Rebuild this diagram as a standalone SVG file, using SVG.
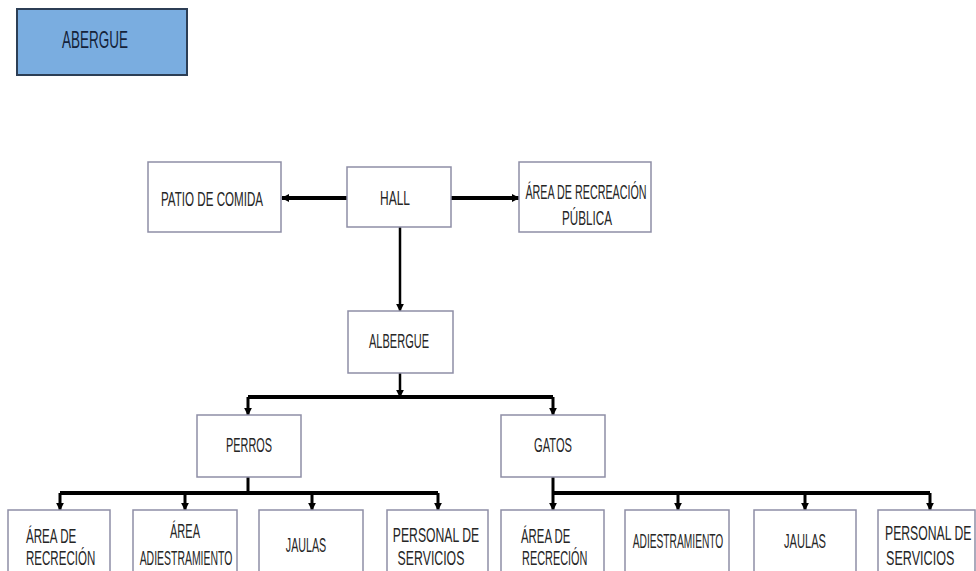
<svg xmlns="http://www.w3.org/2000/svg" width="976" height="571" viewBox="0 0 976 571">
<style>
.box{fill:#ffffff;stroke:#8e8ea6;stroke-width:1.5}
.t{font-family:"Liberation Sans",Arial,sans-serif;font-size:21px;fill:#262626}
.c{text-anchor:middle}
.ln{fill:none;stroke:#000;stroke-linejoin:miter}
</style>
<defs>
<marker id="ah" viewBox="0 0 10 10" refX="9" refY="5" markerWidth="8" markerHeight="8" markerUnits="userSpaceOnUse" orient="auto">
<path d="M0,0 L10,5 L0,10 Z" fill="#000"/>
</marker>
</defs>
<rect width="976" height="571" fill="#ffffff"/>

<g id="connectors">
<line class="ln" x1="347" y1="198" x2="282" y2="198" stroke-width="4" marker-end="url(#ah)"/>
<line class="ln" x1="451" y1="198" x2="519" y2="198" stroke-width="4" marker-end="url(#ah)"/>
<line class="ln" x1="400" y1="227" x2="400" y2="311" stroke-width="2.5" marker-end="url(#ah)"/>
<line class="ln" x1="400" y1="373" x2="400" y2="397" stroke-width="2.5" marker-end="url(#ah)"/>
<polyline class="ln" points="248,397 553,397" stroke-width="4"/>
<line class="ln" x1="248" y1="397" x2="248" y2="415" stroke-width="3" marker-end="url(#ah)"/>
<line class="ln" x1="553" y1="397" x2="553" y2="415" stroke-width="3" marker-end="url(#ah)"/>
<line class="ln" x1="248" y1="477" x2="248" y2="493" stroke-width="3"/>
<line class="ln" x1="60" y1="493" x2="438" y2="493" stroke-width="4"/>
<line class="ln" x1="60" y1="493" x2="60" y2="510" stroke-width="3" marker-end="url(#ah)"/>
<line class="ln" x1="185" y1="493" x2="185" y2="510" stroke-width="3" marker-end="url(#ah)"/>
<line class="ln" x1="312" y1="493" x2="312" y2="510" stroke-width="3" marker-end="url(#ah)"/>
<line class="ln" x1="438" y1="493" x2="438" y2="510" stroke-width="3" marker-end="url(#ah)"/>
<line class="ln" x1="553" y1="477" x2="553" y2="493" stroke-width="3"/>
<line class="ln" x1="553" y1="493" x2="930" y2="493" stroke-width="4"/>
<line class="ln" x1="553" y1="493" x2="553" y2="510" stroke-width="3" marker-end="url(#ah)"/>
<line class="ln" x1="678" y1="493" x2="678" y2="510" stroke-width="3" marker-end="url(#ah)"/>
<line class="ln" x1="805" y1="493" x2="805" y2="510" stroke-width="3" marker-end="url(#ah)"/>
<line class="ln" x1="930" y1="493" x2="930" y2="510" stroke-width="3" marker-end="url(#ah)"/>
</g>

<g id="abergue">
<rect x="17" y="9" width="170" height="66" fill="#7aade0" stroke="#2c3e55" stroke-width="2"/>
<text transform="translate(62,48) scale(0.587,1)" font-family="Liberation Sans,Arial,sans-serif" font-size="23" fill="#15233a">ABERGUE</text>
</g>

<g id="patio">
<rect class="box" x="148" y="162" width="133" height="70"/>
<text class="t c" transform="translate(212,206) scale(0.553,1)">PATIO DE COMIDA</text>
</g>

<g id="hall">
<rect class="box" x="347" y="167" width="104" height="60"/>
<text class="t c" transform="translate(395,205) scale(0.571,1)">HALL</text>
</g>

<g id="area-publica">
<rect class="box" x="519" y="162" width="132" height="70"/>
<text class="t c" transform="translate(586,199) scale(0.512,1)">ÁREA DE RECREACIÓN</text>
<text class="t c" transform="translate(587,225) scale(0.556,1)">PÚBLICA</text>
</g>

<g id="albergue">
<rect class="box" x="348" y="311" width="105" height="62"/>
<text class="t c" transform="translate(399,348) scale(0.525,1)">ALBERGUE</text>
</g>

<g id="perros">
<rect class="box" x="197" y="415" width="104" height="62"/>
<text class="t c" transform="translate(249,452) scale(0.519,1)">PERROS</text>
</g>

<g id="gatos">
<rect class="box" x="501" y="415" width="104" height="62"/>
<text class="t c" transform="translate(553,452) scale(0.53,1)">GATOS</text>
</g>

<g id="p-recreacion">
<rect class="box" x="8" y="510" width="102" height="70"/>
<text class="t" transform="translate(26,543) scale(0.553,1)">ÁREA DE</text>
<text class="t" transform="translate(26,565) scale(0.55,1)">RECRECIÓN</text>
</g>

<g id="p-adiestramiento">
<rect class="box" x="133" y="510" width="104" height="70"/>
<text class="t c" transform="translate(185,538) scale(0.525,1)">ÁREA</text>
<text class="t c" transform="translate(186,565) scale(0.498,1)">ADIESTRAMIENTO</text>
</g>

<g id="p-jaulas">
<rect class="box" x="259" y="510" width="104" height="70"/>
<text class="t c" transform="translate(306,552) scale(0.51,1)">JAULAS</text>
</g>

<g id="p-personal">
<rect class="box" x="387" y="510" width="101" height="70"/>
<text class="t c" transform="translate(436,542) scale(0.582,1)">PERSONAL DE</text>
<text class="t c" transform="translate(431,565) scale(0.586,1)">SERVICIOS</text>
</g>

<g id="g-recreacion">
<rect class="box" x="501" y="510" width="103" height="70"/>
<text class="t" transform="translate(521,543) scale(0.542,1)">ÁREA DE</text>
<text class="t" transform="translate(522,565) scale(0.52,1)">RECRECIÓN</text>
</g>

<g id="g-adiestramiento">
<rect class="box" x="625" y="510" width="104" height="70"/>
<text class="t c" transform="translate(678,548) scale(0.487,1)">ADIESTRAMIENTO</text>
</g>

<g id="g-jaulas">
<rect class="box" x="754" y="510" width="102" height="70"/>
<text class="t c" transform="translate(805,548) scale(0.529,1)">JAULAS</text>
</g>

<g id="g-personal">
<rect class="box" x="878" y="510" width="97" height="70"/>
<text class="t" transform="translate(885,540) scale(0.582,1)">PERSONAL DE</text>
<text class="t" transform="translate(886,565) scale(0.6,1)">SERVICIOS</text>
</g>
</svg>
